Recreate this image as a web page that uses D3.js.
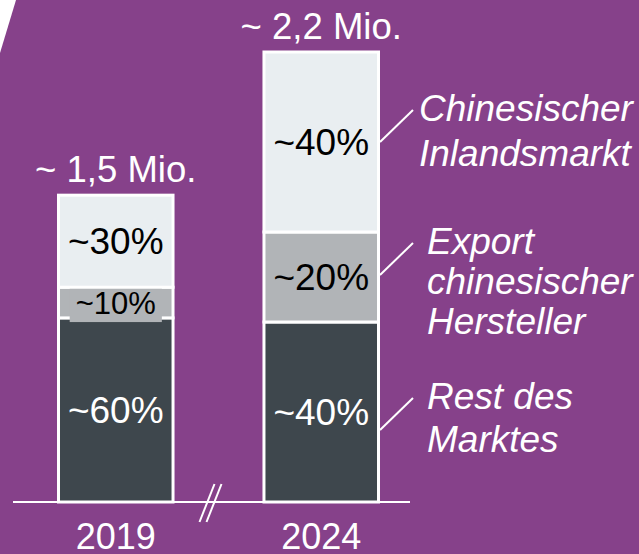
<!DOCTYPE html>
<html>
<head>
<meta charset="utf-8">
<script src="https://cdn.jsdelivr.net/npm/d3@7"></script>
<style>
  html, body { margin: 0; padding: 0; background: #86418a; }
  svg { display: block; }
</style>
</head>
<body>
<script>
// ---- data ----
const years = ["2019", "2024"];
const totals = [1.5, 2.2];                 // Mio. units
const totalLabels = ["~ 1,5 Mio.", "~ 2,2 Mio."];
const seriesKeys = ["rest", "export", "inland"];
const restShare = [0.6, 0.4];
const exportShare = [0.1, 0.2];
const inlandShare = [0.3, 0.4];
const legendLines = {
  inland: ["Chinesischer", "Inlandsmarkt"],
  export: ["Export", "chinesischer", "Hersteller"],
  rest: ["Rest des", "Marktes"]
};

// ---- styles / layout ----
const W = 639, H = 554;
const FONT = "'Liberation Sans', Arial, Helvetica, sans-serif";
const colors = { rest: "#3e474d", export: "#b1b4b7", inland: "#e9eef1" };
const textColors = { rest: "#ffffff", export: "#000000", inland: "#000000" };
const legendLayout = {
  inland: { dy: 0, x: 419, lh: 45 },
  export: { dy: -2, x: 427, lh: 40 },
  rest: { dy: 18, x: 427, lh: 43 }
};

const table = years.map((yr, i) => ({
  year: yr,
  total: totals[i],
  rest: totals[i] * restShare[i],
  export: totals[i] * exportShare[i],
  inland: totals[i] * inlandShare[i],
  shares: { rest: restShare[i], export: exportShare[i], inland: inlandShare[i] }
}));

const svg = d3.select("body").append("svg").attr("width", W).attr("height", H);
svg.append("rect").attr("width", W).attr("height", H).attr("fill", "#86418a");
svg.append("polygon").attr("points", "0,0 16,0 0,53").attr("fill", "#ffffff");

const x = d3.scaleBand().domain(years).range([57, 380]).paddingInner(0.428).paddingOuter(0);
const y = d3.scaleLinear().domain([0, 2.2]).range([502, 52]);
const bw = x.bandwidth();
const SW = 3;

const stacked = d3.stack().keys(seriesKeys)(table);

// bars
const layers = svg.append("g").selectAll("g").data(stacked).join("g");
layers.selectAll("rect").data(d => d.map(s => ({ key: d.key, s }))).join("rect")
  .attr("x", d => x(d.s.data.year) + SW / 2)
  .attr("width", bw - SW)
  .attr("y", d => y(d.s[1]))
  .attr("height", d => y(d.s[0]) - y(d.s[1]))
  .attr("fill", d => colors[d.key])
  .attr("stroke", "#ffffff")
  .attr("stroke-width", SW);

// baseline
svg.append("line")
  .attr("x1", 13).attr("x2", 410)
  .attr("y1", y(0)).attr("y2", y(0))
  .attr("stroke", "#ffffff").attr("stroke-width", 2);

// break marks
const breakX = (x(years[0]) + bw + x(years[1])) / 2 - 8;
[-3.5, 3.5].forEach(off => {
  svg.append("line")
    .attr("x1", breakX + off - 7.5).attr("y1", y(0) + 20)
    .attr("x2", breakX + off + 7.5).attr("y2", y(0) - 18)
    .attr("stroke", "#ffffff").attr("stroke-width", 2);
});

// segment labels
layers.each(function(layer) {
  const g = d3.select(this);
  layer.forEach(s => {
    const share = s.data.shares[layer.key];
    const cx = x(s.data.year) + bw / 2;
    const cy = (y(s[0]) + y(s[1])) / 2;
    const small = share < 0.15;
    const fs = small ? 31 : 37;
    const label = "~" + Math.round(share * 100) + "%";
    const lg = g.append("g");
    const bg = lg.append("rect");
    const t = lg.append("text")
      .attr("x", cx)
      .attr("y", cy + fs * 0.355)
      .attr("text-anchor", "middle")
      .attr("font-family", FONT)
      .attr("font-size", fs)
      .attr("fill", textColors[layer.key])
      .text(label);
    if (small) {
      const tw = t.node().getComputedTextLength();
      bg.attr("x", cx - tw / 2 - 6).attr("width", tw + 12)
        .attr("y", cy - 19.5).attr("height", 39)
        .attr("fill", colors[layer.key]);
    } else {
      bg.remove();
    }
  });
});

// total labels
svg.append("g").selectAll("text").data(table).join("text")
  .attr("x", d => x(d.year) + bw / 2)
  .attr("y", d => y(d.total) - 13)
  .attr("text-anchor", "middle")
  .attr("font-family", FONT)
  .attr("font-size", 36.5)
  .attr("fill", "#ffffff")
  .text((d, i) => totalLabels[i]);

// year labels
svg.append("g").selectAll("text").data(years).join("text")
  .attr("x", d => x(d) + bw / 2)
  .attr("y", 549)
  .attr("text-anchor", "middle")
  .attr("font-family", FONT)
  .attr("font-size", 36)
  .attr("fill", "#ffffff")
  .text(d => d);

// legend annotations for last bar
const last = stacked.map(l => ({ key: l.key, s: l[l.length - 1] }));
last.forEach(d => {
  const lay = legendLayout[d.key];
  const x0 = x(d.s.data.year) + bw;
  const y0 = (y(d.s[0]) + y(d.s[1])) / 2 + lay.dy;
  const x1 = x0 + 33, y1 = y0 - 32;
  svg.append("line")
    .attr("x1", x0).attr("y1", y0).attr("x2", x1).attr("y2", y1)
    .attr("stroke", "#ffffff").attr("stroke-width", 2);
  const t = svg.append("text")
    .attr("font-family", FONT)
    .attr("font-size", 37)
    .attr("font-style", "italic")
    .attr("fill", "#ffffff");
  legendLines[d.key].forEach((ln, i) => {
    t.append("tspan").attr("x", lay.x).attr("y", y1 + 11 + i * lay.lh).text(ln);
  });
});
</script>
</body>
</html>
